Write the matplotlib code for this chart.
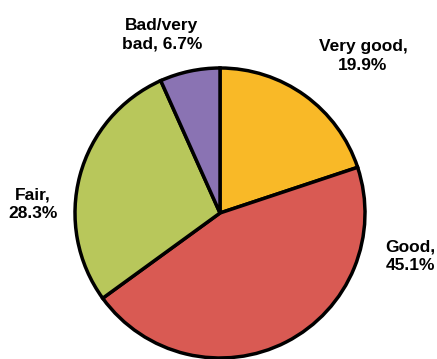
import matplotlib
matplotlib.use("Agg")
import matplotlib.pyplot as plt

categories = ["Very good", "Good", "Fair", "Bad/very\nbad"]
values = [19.9, 45.1, 28.3, 6.7]
colors = ["#F9B927", "#D95A53", "#B8C75B", "#8A73B3"]
label_texts = ["Very good,\n19.9%", "Good,\n45.1%", "Fair,\n28.3%", "Bad/very\nbad, 6.7%"]
label_pos = [(363, 303), (410, 103), (33, 155), (162, 324)]

fig = plt.figure(figsize=(4.37, 3.59), dpi=100)
ax = fig.add_axes([0, 0, 1, 1])
ax.pie(values, colors=colors, startangle=90, counterclock=False,
       radius=145, center=(220, 146),
       wedgeprops=dict(edgecolor="black", linewidth=2.5))
ax.set_xlim(0, 437)
ax.set_ylim(0, 359)
ax.set_aspect("equal")
ax.axis("off")
for txt, (x, y) in zip(label_texts, label_pos):
    ax.text(x, y, txt, ha="center", va="center", fontsize=12.5,
            fontweight="bold", family="Liberation Sans", linespacing=1.3)
fig.savefig("out.png", dpi=100)
